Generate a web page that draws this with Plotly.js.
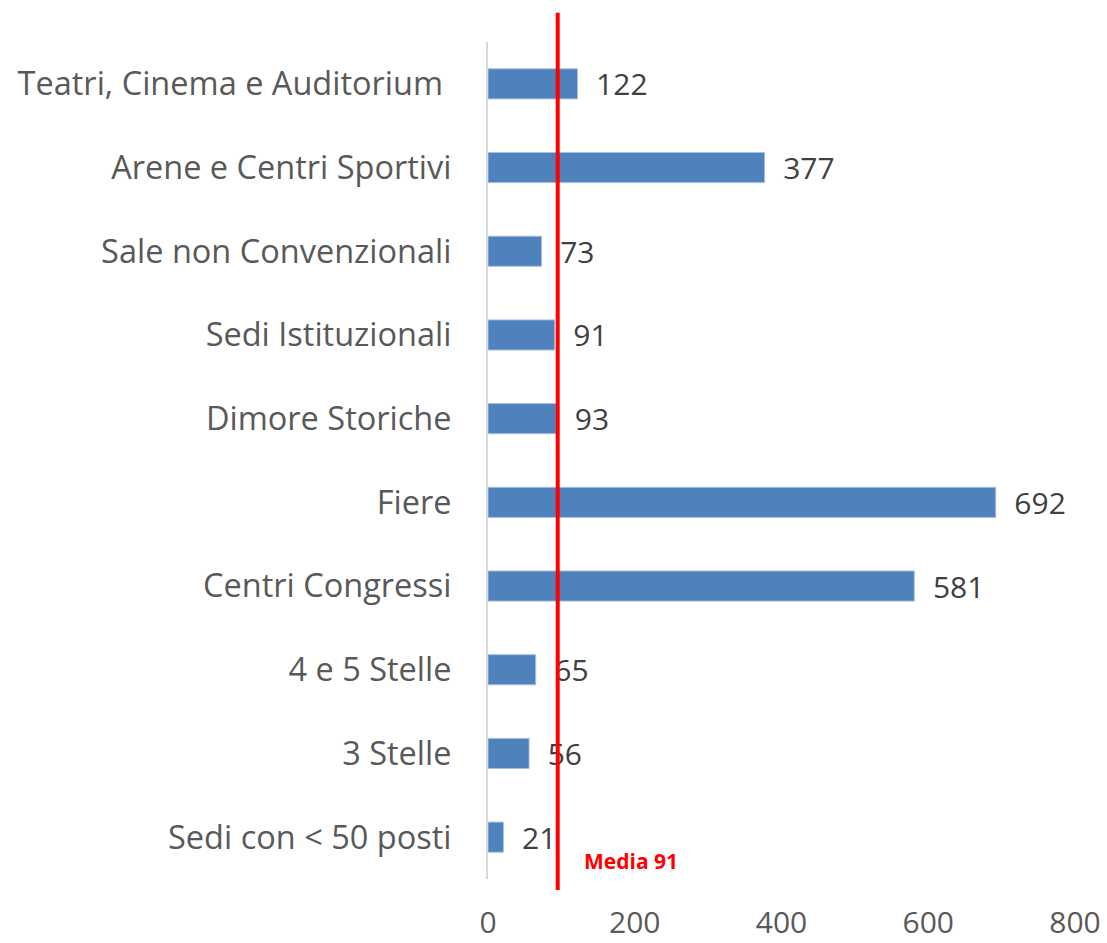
<!DOCTYPE html>
<html>
<head>
<meta charset="utf-8">
<script src="https://cdn.plot.ly/plotly-3.0.1.min.js"></script>
<style>html,body{margin:0;padding:0;background:#fff;}#chart{width:1107px;height:943px;}</style>
</head>
<body>
<div id="chart"></div>
<script>
const categories = ["Teatri, Cinema e Auditorium ", "Arene e Centri Sportivi", "Sale non Convenzionali", "Sedi Istituzionali", "Dimore Storiche", "Fiere", "Centri Congressi", "4 e 5 Stelle", "3 Stelle", "Sedi con < 50 posti"];
const values = [122, 377, 73, 91, 93, 692, 581, 65, 56, 21];
const tickValues = [0, 200, 400, 600, 800];
const mediaLabel = "Media 91";
const mediaLineX = 95;

const trace = {
  type: 'bar',
  orientation: 'h',
  y: categories,
  x: values,
  marker: {color: '#4F81BD', line: {color: '#A9C1E0', width: 1}},
  text: values.map(String),
  texttemplate: '  %{text}',
  textposition: 'outside',
  constraintext: 'none',
  cliponaxis: false,
  textfont: {family: 'Open Sans', size: 30, color: '#404040'},
  hoverinfo: 'none'
};

const layout = {
  width: 1107, height: 943,
  margin: {l: 488, r: 32, t: 42, b: 64},
  paper_bgcolor: '#fff', plot_bgcolor: '#fff',
  showlegend: false,
  bargap: 0.64,
  font: {family: 'Open Sans', color: '#595959'},
  xaxis: {
    range: [0, 800], tickvals: tickValues, ticktext: tickValues.map(String),
    showgrid: false, zeroline: false, showline: false, ticks: '',
    tickfont: {family: 'Open Sans', size: 30, color: '#595959'},
    ticklabelstandoff: 23
  },
  yaxis: {
    categoryorder: 'array', categoryarray: categories,
    autorange: 'reversed',
    showgrid: false, zeroline: false, showline: true, linecolor: '#D9D9D9', linewidth: 2,
    ticks: '', ticklabelstandoff: 28,
    tickfont: {family: 'Open Sans', size: 32.5, color: '#595959'}
  },
  shapes: [{
    type: 'line', xref: 'x', yref: 'paper',
    x0: mediaLineX, x1: mediaLineX, y0: -0.013, y1: 1.035,
    line: {color: '#FF0000', width: 4}
  }],
  annotations: [{
    xref: 'x', yref: 'paper', x: mediaLineX, y: 0.022,
    xanchor: 'left', yanchor: 'middle', xshift: 24,
    text: '<b>' + mediaLabel + '</b>', showarrow: false,
    font: {family: 'Open Sans', size: 21, color: '#FF0000'}
  }]
};

Plotly.newPlot('chart', [trace], layout, {displayModeBar: false, staticPlot: true});
</script>
</body>
</html>
